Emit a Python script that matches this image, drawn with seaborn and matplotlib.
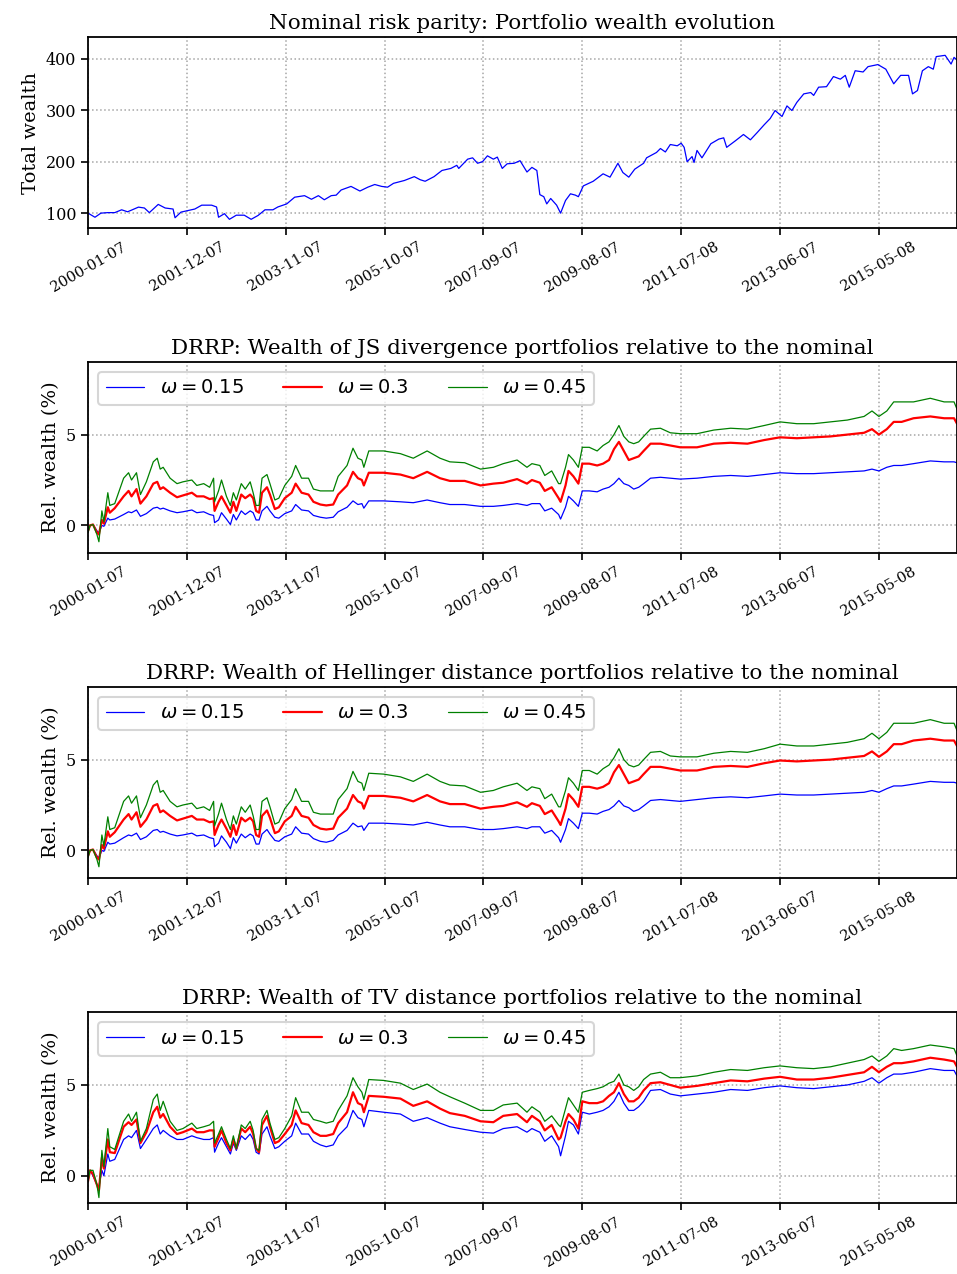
import matplotlib
matplotlib.use("Agg")
import matplotlib.pyplot as plt
import seaborn as sns

# week numbers (weekly data starting 2000-01-07) and tick labels
tick_weeks = [0, 100, 200, 300, 400, 500, 600, 700, 800]
tick_labels = ['2000-01-07', '2001-12-07', '2003-11-07', '2005-10-07', '2007-09-07',
               '2009-08-07', '2011-07-08', '2013-06-07', '2015-05-08']
last_week = 879

# nominal portfolio wealth
nom_weeks = [0, 7, 13, 20, 27, 34, 40, 51, 57, 62, 71, 78, 86, 88, 94, 101, 108, 115, 125, 130,
             132, 138, 143, 150, 158, 165, 172, 179, 187, 192, 201, 209, 219, 226, 233, 239, 246, 251, 256, 266,
             275, 283, 290, 297, 303, 309, 320, 330, 336, 341, 350, 358, 367, 373, 375, 384, 389, 394, 399, 404,
             410, 414, 419, 424, 431, 437, 444, 449, 454, 457, 461, 464, 468, 474, 478, 483, 488, 493, 496, 501,
             511, 521, 528, 536, 541, 547, 553, 562, 565, 575, 579, 584, 589, 596, 600, 603, 606, 611, 613, 616,
             621, 630, 638, 643, 646, 655, 663, 670, 677, 684, 690, 695, 702, 707, 712, 717, 724, 731, 734, 739,
             747, 754, 761, 766, 770, 776, 784, 789, 799, 807, 815, 822, 830, 834, 839, 844, 850, 855, 858, 867,
             873, 876, 879]
nom_wealth = [100, 92, 100, 101, 101, 106.5, 102.6, 111.7, 110, 101, 117, 110, 108, 91, 102, 105, 108, 115.5, 115.5, 112,
              92, 99, 88, 96, 96, 88, 95.5, 106.5, 106.5, 112, 118, 131, 134, 127, 134, 126, 134, 135, 145, 152,
              143, 150.5, 155.7, 152, 150.5, 158, 163.5, 171, 165, 162, 171, 183, 187, 193, 187, 205, 207.6, 197, 200, 211.5,
              205, 209, 187, 196, 197, 202, 180, 189, 183, 136, 132, 118, 128.5, 115.5, 100, 124.6, 137.6, 135, 132, 153,
              162, 176.5, 170, 197, 179, 170, 185.5, 197, 207.6, 218, 225.7, 219, 233.5, 231, 236, 228, 200, 210, 198.5, 222,
              207.6, 235, 244, 246.5, 228, 241, 253, 242.6, 257, 272, 284, 299.6, 288, 308.6, 299.6, 315.5, 332, 334.6, 329, 345,
              346, 365.7, 360.6, 368, 345, 377, 374.6, 385, 389, 380, 351.6, 368, 368, 332, 338.5, 377, 385, 380, 404.5, 407,
              390, 403, 398]

# relative wealth (%) of the robust portfolios
rel_weeks = [0, 2, 5, 9, 11, 14, 16, 20, 22, 27,
             36, 41, 44, 49, 53, 59, 66, 70, 73, 76,
             83, 90, 96, 105, 110, 117, 123, 127, 128, 132,
             135, 140, 144, 147, 150, 155, 159, 164, 167, 170,
             173, 176, 181, 184, 189, 193, 199, 206, 210, 216,
             223, 228, 235, 241, 248, 253, 262, 268, 273, 277,
             279, 284, 299, 316, 329, 343, 356, 366, 381, 397,
             410, 420, 434, 444, 449, 457, 462, 469, 476, 478,
             483, 486, 491, 496, 500, 507, 515, 521, 527, 532,
             537, 542, 547, 552, 557, 562, 569, 579, 589, 599,
             616, 633, 650, 667, 684, 700, 717, 734, 751, 768,
             785, 793, 800, 808, 815, 823, 835, 852, 866, 876, 879]

js_015 = [-0.3, 0.0, 0.05, -0.3, -0.4, 0.0, -0.05, 0.4, 0.3, 0.35,
          0.6, 0.75, 0.7, 0.85, 0.5, 0.65, 0.95, 1.0, 0.9, 0.95,
          0.8, 0.7, 0.75, 0.85, 0.7, 0.75, 0.6, 0.55, 0.15, 0.3,
          0.7, 0.35, 0.05, 0.6, 0.3, 0.8, 0.6, 0.8, 0.7, 0.3,
          0.3, 0.8, 1.05, 0.8, 0.45, 0.4, 0.65, 0.8, 1.15, 0.85,
          0.8, 0.55, 0.45, 0.4, 0.45, 0.75, 1.0, 1.35, 1.15, 1.2,
          0.95, 1.35, 1.35, 1.3, 1.25, 1.4, 1.25, 1.15, 1.15, 1.05,
          1.05, 1.1, 1.2, 1.1, 1.2, 1.2, 0.8, 0.95, 0.6, 0.35,
          1.0, 1.6, 1.35, 1.05, 1.9, 1.9, 1.85, 2.0, 2.1, 2.3,
          2.6, 2.3, 2.2, 2.0, 2.1, 2.3, 2.6, 2.65, 2.6, 2.55,
          2.6, 2.7, 2.75, 2.7, 2.8, 2.9, 2.85, 2.85, 2.9, 2.95,
          3.0, 3.1, 3.0, 3.2, 3.3, 3.3, 3.4, 3.55, 3.5, 3.5, 3.45]
js_030 = [-0.3, 0.0, 0.05, -0.4, -0.5, 0.3, 0.1, 1.0, 0.7, 0.95,
          1.6, 1.9, 1.6, 2.0, 1.2, 1.6, 2.3, 2.4, 2.0, 2.1,
          1.8, 1.55, 1.65, 1.8, 1.6, 1.6, 1.45, 1.5, 0.8, 1.3,
          1.6, 1.1, 0.7, 1.3, 0.8, 1.7, 1.5, 1.7, 1.5, 0.8,
          0.7, 1.8, 2.1, 1.7, 0.9, 1.0, 1.5, 1.8, 2.3, 1.8,
          1.7, 1.3, 1.15, 1.1, 1.15, 1.7, 2.2, 2.95, 2.6, 2.5,
          2.2, 2.9, 2.9, 2.8, 2.6, 2.95, 2.6, 2.45, 2.45, 2.2,
          2.3, 2.35, 2.55, 2.3, 2.5, 2.35, 1.9, 2.1, 1.5, 1.3,
          2.2, 3.0, 2.7, 2.3, 3.4, 3.4, 3.3, 3.4, 3.6, 4.2,
          4.6, 4.1, 3.6, 3.7, 3.8, 4.1, 4.5, 4.5, 4.4, 4.3,
          4.3, 4.5, 4.55, 4.5, 4.7, 4.85, 4.8, 4.85, 4.9, 5.0,
          5.1, 5.3, 5.0, 5.3, 5.7, 5.7, 5.9, 6.0, 5.9, 5.9, 5.6]
js_045 = [-0.4, 0.0, 0.05, -0.5, -0.9, 0.8, 0.2, 1.8, 1.1, 1.2,
          2.6, 2.9, 2.5, 2.9, 1.7, 2.4, 3.5, 3.7, 3.1, 3.2,
          2.6, 2.3, 2.4, 2.5, 2.2, 2.3, 2.1, 2.6, 1.3, 1.9,
          2.5, 1.6, 1.1, 1.8, 1.4, 2.3, 2.0, 2.4, 1.8, 1.1,
          1.1, 2.6, 2.8, 2.3, 1.4, 1.5, 2.2, 2.7, 3.3, 2.6,
          2.6, 2.0, 1.9, 1.9, 1.9, 2.7, 3.3, 4.25, 3.7, 3.6,
          3.2, 4.1, 4.1, 3.95, 3.7, 4.1, 3.7, 3.5, 3.45, 3.1,
          3.2, 3.4, 3.6, 3.2, 3.4, 3.3, 2.75, 3.0, 2.3, 2.3,
          3.2, 3.9, 3.6, 3.2, 4.3, 4.3, 4.1, 4.4, 4.6, 5.0,
          5.5, 4.9, 4.6, 4.5, 4.6, 4.9, 5.3, 5.35, 5.1, 5.05,
          5.05, 5.25, 5.35, 5.3, 5.5, 5.7, 5.6, 5.6, 5.7, 5.8,
          6.0, 6.3, 6.0, 6.3, 6.8, 6.8, 6.8, 7.0, 6.8, 6.8, 6.4]

hel_015 = [-0.3, 0.0, 0.05, -0.3, -0.4, 0.0, -0.05, 0.45, 0.35, 0.4,
           0.7, 0.85, 0.8, 0.95, 0.6, 0.75, 1.1, 1.15, 1.0, 1.05,
           0.9, 0.8, 0.85, 0.95, 0.8, 0.85, 0.7, 0.65, 0.2, 0.4,
           0.8, 0.45, 0.1, 0.7, 0.4, 0.9, 0.7, 0.9, 0.8, 0.35,
           0.35, 0.9, 1.15, 0.9, 0.55, 0.5, 0.75, 0.9, 1.3, 0.95,
           0.9, 0.65, 0.5, 0.45, 0.55, 0.85, 1.1, 1.5, 1.3, 1.35,
           1.1, 1.5, 1.5, 1.45, 1.4, 1.55, 1.4, 1.3, 1.3, 1.15,
           1.15, 1.2, 1.3, 1.2, 1.3, 1.3, 0.95, 1.1, 0.7, 0.45,
           1.15, 1.75, 1.5, 1.2, 2.05, 2.05, 2.0, 2.15, 2.25, 2.45,
           2.75, 2.45, 2.35, 2.15, 2.25, 2.45, 2.75, 2.8, 2.75, 2.7,
           2.8, 2.9, 2.95, 2.9, 3.0, 3.1, 3.05, 3.05, 3.1, 3.15,
           3.2, 3.3, 3.2, 3.4, 3.55, 3.55, 3.65, 3.8, 3.75, 3.75, 3.7]
hel_030 = [-0.3, 0.0, 0.05, -0.4, -0.5, 0.3, 0.1, 1.05, 0.75, 1.0,
           1.7, 2.0, 1.7, 2.1, 1.3, 1.7, 2.45, 2.55, 2.1, 2.2,
           1.9, 1.65, 1.75, 1.9, 1.7, 1.7, 1.55, 1.6, 0.85, 1.4,
           1.7, 1.2, 0.75, 1.4, 0.85, 1.8, 1.6, 1.8, 1.6, 0.85,
           0.75, 1.9, 2.2, 1.8, 0.95, 1.05, 1.6, 1.9, 2.4, 1.9,
           1.8, 1.4, 1.2, 1.15, 1.2, 1.8, 2.3, 3.05, 2.7, 2.6,
           2.3, 3.0, 3.0, 2.9, 2.7, 3.05, 2.7, 2.55, 2.55, 2.3,
           2.4, 2.45, 2.65, 2.4, 2.6, 2.45, 2.0, 2.2, 1.6, 1.4,
           2.3, 3.1, 2.8, 2.4, 3.5, 3.5, 3.4, 3.5, 3.7, 4.3,
           4.7, 4.2, 3.7, 3.8, 3.9, 4.2, 4.6, 4.6, 4.5, 4.4,
           4.4, 4.6, 4.65, 4.6, 4.8, 4.95, 4.9, 4.95, 5.0, 5.1,
           5.2, 5.45, 5.15, 5.45, 5.85, 5.85, 6.05, 6.15, 6.05, 6.05, 5.75]
hel_045 = [-0.4, 0.0, 0.05, -0.5, -0.9, 0.85, 0.25, 1.85, 1.15, 1.25,
           2.7, 3.0, 2.6, 3.0, 1.8, 2.5, 3.6, 3.85, 3.2, 3.3,
           2.7, 2.4, 2.5, 2.6, 2.3, 2.4, 2.2, 2.7, 1.35, 2.0,
           2.6, 1.7, 1.15, 1.9, 1.45, 2.4, 2.1, 2.5, 1.9, 1.15,
           1.15, 2.7, 2.9, 2.4, 1.45, 1.55, 2.3, 2.8, 3.4, 2.7,
           2.7, 2.1, 2.0, 2.0, 2.0, 2.8, 3.4, 4.35, 3.8, 3.7,
           3.3, 4.25, 4.2, 4.05, 3.8, 4.2, 3.8, 3.6, 3.55, 3.2,
           3.3, 3.5, 3.7, 3.3, 3.5, 3.4, 2.85, 3.1, 2.4, 2.4,
           3.3, 4.0, 3.7, 3.3, 4.4, 4.4, 4.2, 4.5, 4.7, 5.1,
           5.6, 5.0, 4.7, 4.6, 4.7, 5.0, 5.4, 5.45, 5.2, 5.15,
           5.15, 5.35, 5.45, 5.4, 5.6, 5.85, 5.75, 5.75, 5.85, 5.95,
           6.15, 6.45, 6.15, 6.5, 7.0, 7.0, 7.0, 7.2, 7.0, 7.0, 6.6]

tv_015 = [-0.3, 0.3, 0.0, -0.5, -0.6, 0.3, 0.0, 1.2, 0.8, 0.9,
          2.0, 2.2, 2.1, 2.5, 1.5, 2.0, 2.6, 2.8, 2.3, 2.5,
          2.2, 2.0, 2.0, 2.2, 2.1, 2.0, 2.0, 2.1, 1.3, 1.8,
          2.1, 1.6, 1.2, 1.8, 1.4, 2.2, 2.0, 2.3, 2.0, 1.3,
          1.2, 2.3, 2.7, 2.2, 1.5, 1.6, 1.9, 2.2, 2.9, 2.3,
          2.3, 1.9, 1.7, 1.6, 1.7, 2.2, 2.7, 3.6, 3.2, 3.1,
          2.7, 3.6, 3.5, 3.4, 3.0, 3.2, 2.9, 2.7, 2.55, 2.4,
          2.35, 2.6, 2.7, 2.4, 2.6, 2.4, 1.9, 2.2, 1.6, 1.1,
          2.2, 3.0, 2.8, 2.3, 3.5, 3.4, 3.5, 3.6, 3.8, 4.1,
          4.6, 4.0, 3.6, 3.6, 3.8, 4.1, 4.7, 4.75, 4.5, 4.4,
          4.5, 4.6, 4.75, 4.7, 4.85, 4.95, 4.85, 4.8, 4.9, 5.0,
          5.2, 5.4, 5.1, 5.4, 5.6, 5.6, 5.7, 5.9, 5.8, 5.8, 5.5]
tv_030 = [-0.3, 0.3, 0.1, -0.5, -0.8, 1.0, 0.4, 2.0, 1.3, 1.25,
          2.7, 2.95, 2.8, 3.1, 1.8, 2.4, 3.5, 3.8, 3.2, 3.4,
          2.7, 2.3, 2.4, 2.6, 2.4, 2.4, 2.5, 2.5, 1.6, 2.1,
          2.5, 1.8, 1.4, 2.0, 1.5, 2.6, 2.4, 2.7, 2.3, 1.5,
          1.3, 2.8, 3.3, 2.7, 1.8, 1.9, 2.3, 2.8, 3.6, 2.9,
          2.8, 2.4, 2.2, 2.2, 2.3, 2.9, 3.5, 4.6, 4.0, 3.9,
          3.5, 4.4, 4.35, 4.25, 3.85, 4.1, 3.7, 3.45, 3.3, 3.0,
          2.95, 3.3, 3.4, 2.95, 3.3, 3.0, 2.5, 2.8, 2.0, 2.1,
          3.0, 3.4, 3.1, 2.6, 4.1, 4.0, 4.0, 4.1, 4.4, 4.6,
          5.1, 4.5, 4.1, 4.1, 4.3, 4.7, 5.1, 5.15, 5.0, 4.85,
          4.95, 5.1, 5.25, 5.2, 5.35, 5.45, 5.3, 5.3, 5.4, 5.55,
          5.7, 6.0, 5.7, 6.0, 6.2, 6.2, 6.3, 6.5, 6.4, 6.3, 6.0]
tv_045 = [-0.3, 0.3, 0.3, -0.5, -1.2, 1.4, 0.5, 2.6, 1.6, 1.45,
          3.0, 3.4, 3.0, 3.5, 1.9, 2.6, 4.2, 4.5, 3.6, 4.1,
          3.0, 2.5, 2.6, 2.9, 2.6, 2.7, 2.8, 3.0, 1.8, 2.3,
          2.7, 2.0, 1.5, 2.2, 1.5, 2.8, 2.6, 3.0, 2.5, 1.5,
          1.4, 3.1, 3.6, 2.9, 2.0, 2.1, 2.6, 3.3, 4.3, 3.5,
          3.5, 3.1, 3.0, 2.9, 3.0, 3.6, 4.4, 5.4, 4.9, 4.6,
          4.2, 5.3, 5.25, 5.1, 4.75, 5.05, 4.6, 4.35, 4.0, 3.6,
          3.6, 3.9, 4.0, 3.5, 3.8, 3.5, 3.0, 3.3, 2.8, 2.7,
          3.7, 4.3, 3.9, 3.5, 4.6, 4.7, 4.8, 4.9, 5.1, 5.2,
          5.6, 5.0, 4.9, 4.7, 4.9, 5.3, 5.6, 5.7, 5.4, 5.4,
          5.5, 5.7, 5.85, 5.8, 5.95, 6.05, 5.95, 5.9, 6.0, 6.2,
          6.4, 6.6, 6.3, 6.6, 7.0, 6.9, 7.0, 7.2, 7.1, 7.0, 6.6]

omegas = ['0.15', '0.3', '0.45']
colors = ['blue', 'red', 'green']
widths = [0.9, 1.6, 0.9]

panels = [
    ('JS divergence', [js_015, js_030, js_045]),
    ('Hellinger distance', [hel_015, hel_030, hel_045]),
    ('TV distance', [tv_015, tv_030, tv_045]),
]

sns.set_style('ticks')
plt.rcParams['font.family'] = 'serif'
plt.rcParams['font.serif'] = ['DejaVu Serif']
plt.rcParams['mathtext.fontset'] = 'dejavusans'
for key in ['text.color', 'axes.labelcolor', 'xtick.color', 'ytick.color']:
    plt.rcParams[key] = 'black'

fig = plt.figure(figsize=(9.57, 12.74), dpi=100)
bottoms = [0.821, 0.5662, 0.3111, 0.0557]
axes = [fig.add_axes([0.092, b, 0.908, 0.1497]) for b in bottoms]


def style_axis(ax):
    ax.set_xlim(0, last_week)
    ax.set_xticks(tick_weeks)
    ax.set_xticklabels(tick_labels, rotation=30)
    ax.tick_params(axis='both', direction='out', length=5, width=1.2)
    ax.tick_params(axis='x', labelsize=10.5)
    ax.tick_params(axis='y', labelsize=11.5)
    ax.grid(True, linestyle=':', color='0.65', linewidth=1.1)
    for s in ax.spines.values():
        s.set_linewidth(1.3)
        s.set_color('black')
    ax.set_xlabel('')


ax = axes[0]
sns.lineplot(x=nom_weeks, y=nom_wealth, ax=ax, color='blue', lw=0.9)
ax.set_ylim(71, 442)
ax.set_yticks([100, 200, 300, 400])
ax.set_ylabel('Total wealth', fontsize=14)
ax.set_title('Nominal risk parity: Portfolio wealth evolution', fontsize=15.4)
style_axis(ax)

for ax, (name, series) in zip(axes[1:], panels):
    for vals, om, c, w in zip(series, omegas, colors, widths):
        sns.lineplot(x=rel_weeks, y=vals, ax=ax, color=c, lw=w, label=r'$\omega = %s$' % om)
    ax.set_ylim(-1.5, 9)
    ax.set_yticks([0, 5])
    ax.set_ylabel('Rel. wealth (%)', fontsize=14)
    ax.set_title('DRRP: Wealth of %s portfolios relative to the nominal' % name, fontsize=15.4)
    leg = ax.legend(loc='upper left', ncol=3, fontsize=14, frameon=True, fancybox=True)
    leg.get_frame().set_edgecolor('0.8')
    leg.get_frame().set_linewidth(1.5)
    style_axis(ax)

fig.savefig('out.png', dpi=100)
